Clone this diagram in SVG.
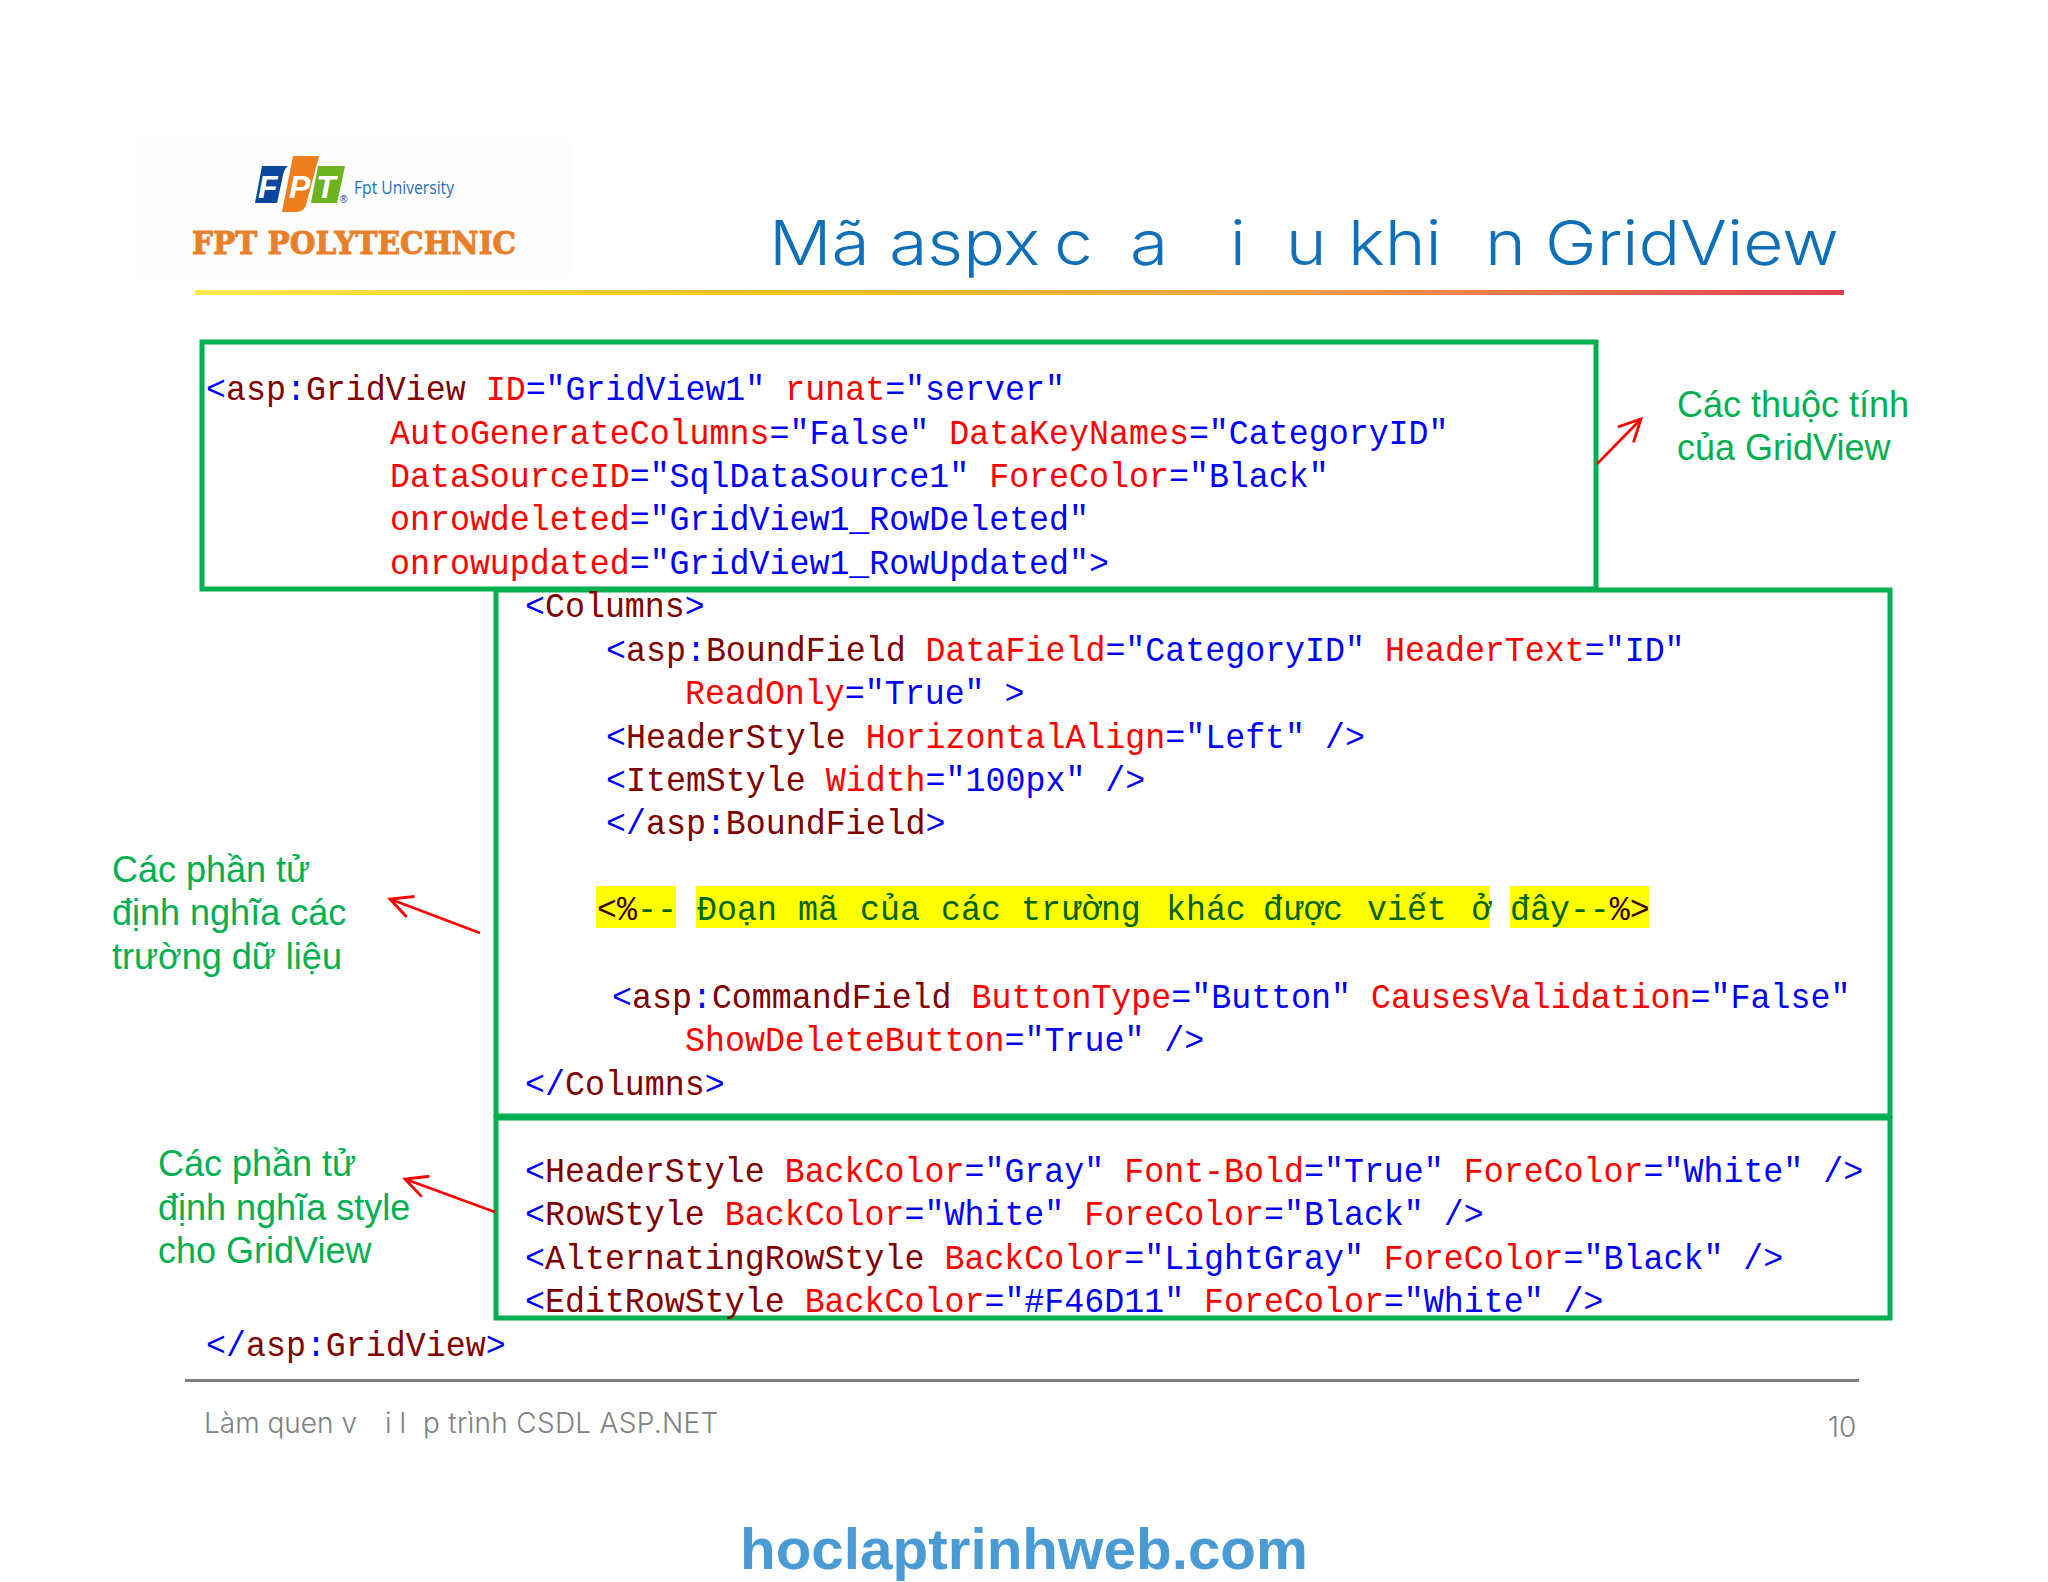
<svg xmlns="http://www.w3.org/2000/svg" width="2048" height="1582" viewBox="0 0 2048 1582">
<style>
.c{font-family:"Liberation Mono",monospace;font-size:36px;fill:#0000ff;white-space:pre}
.m{fill:#800000}.r{fill:#ff0000}.d{fill:#006400}.bk{fill:#3a0000}
.l{font-family:"Liberation Sans",Arial,sans-serif;font-size:36px;fill:#00b050}
.box{fill:none;stroke:#00b050;stroke-width:5}
.ar{fill:none;stroke:#ff0000;stroke-width:2.6;marker-end:url(#ah)}
.t{font-family:Inter,"Open Sans",sans-serif;font-weight:300;font-size:62px;fill:#0f6fb8}
.f{font-family:Inter,"Open Sans",sans-serif;font-weight:300;font-size:28px;fill:#808080}
.lg{font-family:"Liberation Sans",sans-serif;font-weight:700;font-style:italic;font-size:32px;fill:#fff}
</style>
<defs>
<linearGradient id="rule"><stop offset="0" stop-color="#fbe84e"/><stop offset=".35" stop-color="#f6c21c"/><stop offset=".65" stop-color="#f3a24a"/><stop offset="1" stop-color="#e2404e"/></linearGradient>
<marker id="ah" markerUnits="userSpaceOnUse" markerWidth="30" markerHeight="30" refX="23" refY="12" orient="auto"><path d="M1 1L23 12L1 23" fill="none" stroke="#ff0000" stroke-width="2.8"/></marker>
</defs>
<rect width="2048" height="1582" fill="#ffffff"/>
<g id="logo">
<rect x="135" y="142" width="435" height="136" fill="#fdfdfd"/>
<path d="M262 166H288Q284 168 282 180L277 203H255Z" fill="#0a479c"/>
<path d="M293 156H319L306 205Q304 212 296 212H282Z" fill="#ee7d1e"/>
<path d="M318 166H345L337 203H311Z" fill="#6db31f"/>
<text class="lg" x="258" y="198">F</text><text class="lg" x="289" y="198">P</text><text class="lg" x="316" y="198">T</text>
<text x="340" y="203" font-family="Liberation Sans,sans-serif" font-size="10" fill="#0a479c">®</text>
<text x="354" y="194" font-family="Open Sans,sans-serif" font-size="19" fill="#2a6fb5" textLength="100" lengthAdjust="spacingAndGlyphs">Fpt University</text>
<text x="192" y="254" font-family="DejaVu Serif,serif" font-weight="700" font-size="32" fill="#e8802a" stroke="#e8802a" stroke-width="1" textLength="324" lengthAdjust="spacingAndGlyphs">FPT POLYTECHNIC</text>
</g>
<g id="title">
<text class="t" transform="translate(0 265) scale(1.12 1)"><tspan x="686.6">Mã aspx</tspan> <tspan x="941">c</tspan> <tspan x="1009">a</tspan> <tspan x="1098">i</tspan> <tspan x="1148">u</tspan> <tspan x="1203.6">khi</tspan> <tspan x="1326">n</tspan> <tspan x="1379.5">GridView</tspan></text>
<rect x="195" y="290" width="1649" height="5" fill="url(#rule)"/>
</g>
<g id="comment-highlight" fill="#ffff00">
<rect x="596" y="886" width="80" height="42"/><rect x="696" y="886" width="794" height="42"/><rect x="1510" y="886" width="139" height="42"/>
</g>
<g id="box-attributes"><rect class="box" x="202" y="342" width="1394" height="247"/>
<text class="c" transform="translate(206 400) scale(.925 1)">&lt;<tspan class="m">asp</tspan>:<tspan class="m">GridView</tspan> <tspan class="r">ID</tspan>="GridView1" <tspan class="r">runat</tspan>="server"</text>
<text class="c" transform="translate(390 443.5) scale(.925 1)"><tspan class="r">AutoGenerateColumns</tspan>="False" <tspan class="r">DataKeyNames</tspan>="CategoryID"</text>
<text class="c" transform="translate(390 487) scale(.925 1)"><tspan class="r">DataSourceID</tspan>="SqlDataSource1" <tspan class="r">ForeColor</tspan>="Black"</text>
<text class="c" transform="translate(390 530.4) scale(.925 1)"><tspan class="r">onrowdeleted</tspan>="GridView1_RowDeleted"</text>
<text class="c" transform="translate(390 573.8) scale(.925 1)"><tspan class="r">onrowupdated</tspan>="GridView1_RowUpdated"&gt;</text>
<text class="c" transform="translate(206 1356) scale(.925 1)">&lt;/<tspan class="m">asp</tspan>:<tspan class="m">GridView</tspan>&gt;</text>
</g>
<g id="box-columns"><rect class="box" x="496" y="590" width="1394" height="526"/>
<text class="c" transform="translate(525 617.2) scale(.925 1)">&lt;<tspan class="m">Columns</tspan>&gt;</text>
<text class="c" transform="translate(606 660.7) scale(.925 1)">&lt;<tspan class="m">asp</tspan>:<tspan class="m">BoundField</tspan> <tspan class="r">DataField</tspan>="CategoryID" <tspan class="r">HeaderText</tspan>="ID"</text>
<text class="c" transform="translate(685 704.1) scale(.925 1)"><tspan class="r">ReadOnly</tspan>="True" &gt;</text>
<text class="c" transform="translate(606 747.5) scale(.925 1)">&lt;<tspan class="m">HeaderStyle</tspan> <tspan class="r">HorizontalAlign</tspan>="Left" /&gt;</text>
<text class="c" transform="translate(606 791) scale(.925 1)">&lt;<tspan class="m">ItemStyle</tspan> <tspan class="r">Width</tspan>="100px" /&gt;</text>
<text class="c" transform="translate(606 834.4) scale(.925 1)">&lt;/<tspan class="m">asp</tspan>:<tspan class="m">BoundField</tspan>&gt;</text>
<text class="c d" transform="translate(597 920) scale(.925 1)"><tspan class="bk">&lt;%</tspan>--<tspan x="108.1">Đoạn</tspan> <tspan x="217.3">mã</tspan> <tspan x="284.3">của</tspan> <tspan x="371.9">các</tspan> <tspan x="458.4">trường</tspan> <tspan x="615.1">khác</tspan> <tspan x="720">được</tspan> <tspan x="832.4">viết</tspan> <tspan x="945">ở</tspan> <tspan x="987">đây--</tspan><tspan class="bk">%&gt;</tspan></text>
<text class="c" transform="translate(612 1008) scale(.925 1)">&lt;<tspan class="m">asp</tspan>:<tspan class="m">CommandField</tspan> <tspan class="r">ButtonType</tspan>="Button" <tspan class="r">CausesValidation</tspan>="False"</text>
<text class="c" transform="translate(685 1051.4) scale(.925 1)"><tspan class="r">ShowDeleteButton</tspan>="True" /&gt;</text>
<text class="c" transform="translate(525 1094.9) scale(.925 1)">&lt;/<tspan class="m">Columns</tspan>&gt;</text>
</g>
<g id="box-styles"><rect class="box" x="496" y="1118" width="1394" height="200"/>
<text class="c" transform="translate(525 1182) scale(.925 1)">&lt;<tspan class="m">HeaderStyle</tspan> <tspan class="r">BackColor</tspan>="Gray" <tspan class="r">Font-Bold</tspan>="True" <tspan class="r">ForeColor</tspan>="White" /&gt;</text>
<text class="c" transform="translate(525 1225.4) scale(.925 1)">&lt;<tspan class="m">RowStyle</tspan> <tspan class="r">BackColor</tspan>="White" <tspan class="r">ForeColor</tspan>="Black" /&gt;</text>
<text class="c" transform="translate(525 1268.8) scale(.925 1)">&lt;<tspan class="m">AlternatingRowStyle</tspan> <tspan class="r">BackColor</tspan>="LightGray" <tspan class="r">ForeColor</tspan>="Black" /&gt;</text>
<text class="c" transform="translate(525 1312.2) scale(.925 1)">&lt;<tspan class="m">EditRowStyle</tspan> <tspan class="r">BackColor</tspan>="#F46D11" <tspan class="r">ForeColor</tspan>="White" /&gt;</text>
</g>
<g id="label-attributes"><text class="l" x="1677" y="416.5">Các thuộc tính</text><text class="l" x="1677" y="459.5">của GridView</text></g>
<g id="label-fields"><text class="l" x="112" y="882">Các phần tử</text><text class="l" x="112" y="925">định nghĩa các</text><text class="l" x="112" y="969">trường dữ liệu</text></g>
<g id="label-styles"><text class="l" x="158" y="1176">Các phần tử</text><text class="l" x="158" y="1220">định nghĩa style</text><text class="l" x="158" y="1263">cho GridView</text></g>
<g id="connectors">
<path class="ar" d="M1597 464L1641 419"/>
<path class="ar" d="M480 933L390 899"/>
<path class="ar" d="M495 1212L405 1179"/>
</g>
<g id="footer">
<rect x="185" y="1379" width="1674" height="3" fill="#808080"/>
<text class="f" y="1433"><tspan x="204">Làm quen v</tspan> <tspan x="385">i l</tspan> <tspan x="423" letter-spacing=".3">p trình CSDL ASP.NET</tspan></text>
<text class="f" x="1828" y="1437">10</text>
<text x="740" y="1569" font-family="Liberation Sans,sans-serif" font-weight="700" font-size="58" fill="#4a9ad4" textLength="568" lengthAdjust="spacingAndGlyphs">hoclaptrinhweb.com</text>
</g>
</svg>
